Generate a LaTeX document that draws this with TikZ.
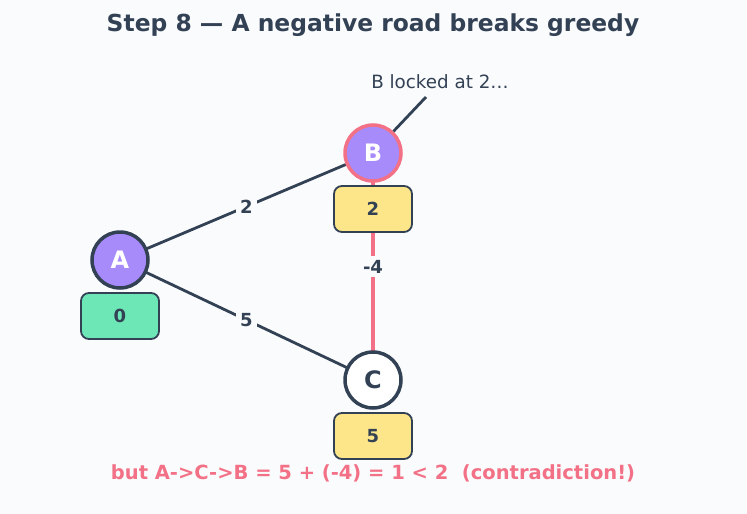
\documentclass[tikz,border=0pt]{standalone}
\usepackage{fontspec}
\setmainfont{DejaVu Sans}
\usetikzlibrary{positioning}
\definecolor{pageBg}{HTML}{FAFBFD}
\definecolor{roadDark}{HTML}{334155}
\definecolor{roadPink}{HTML}{F37186}
\definecolor{cityPurple}{HTML}{A78BFA}
\definecolor{distGreen}{HTML}{6EE7B7}
\definecolor{distYellow}{HTML}{FDE68A}

\begin{document}
\begin{tikzpicture}[x=1pt, y=-1pt,
      city/.style={circle, draw=roadDark, line width=3.5pt, fill=cityPurple, text=white,
        minimum size=56pt, inner sep=0pt, font=\fontsize{24}{26}\selectfont\bfseries},
      dist/.style={draw=roadDark, line width=1.8pt, rounded corners=8pt, fill=distYellow,
        text=roadDark, minimum width=78pt, minimum height=46pt, inner sep=0pt,
        font=\fontsize{18}{20}\selectfont\bfseries},
      road/.style={roadDark, line width=2.8pt},
      weight/.style={fill=pageBg, text=roadDark, inner sep=4pt,
        font=\fontsize{18}{20}\selectfont\bfseries}]
    \fill[pageBg] (0,0) rectangle (747,514);
    \useasboundingbox (0,0) rectangle (747,514);

    \node[text=roadDark, font=\fontsize{23.4}{26}\selectfont\bfseries] (title) at (373,25)
      {Step 8 — A negative road breaks greedy};

    \coordinate (pA) at (120,260);
    \coordinate (pB) at (373,153);
    \coordinate (pC) at (373,380);

    % roads first, cities on top
    \draw[road] (pA) -- node[weight] (wAB) {2} (pB);
    \draw[road] (pA) -- node[weight] (wAC) {5} (pC);
    \draw[roadPink, line width=4.5pt] (pB) -- node[weight] (wBC) {-4} (pC);

    \node[dist, fill=distGreen] (dA) at (120,316) {0};
    \node[dist] (dB) at (373,209) {2};
    \node[dist] (dC) at (373,436) {5};

    \node[city] (A) at (pA) {A};
    \node[city, draw=roadPink] (B) at (pB) {B};
    \node[city, fill=white, text=roadDark] (C) at (pC) {C};

    \node[text=roadDark, font=\fontsize{18.3}{20}\selectfont] (note) at (440,82) {B locked at 2…};
    \coordinate (noteTip) at (426,97);
    \draw[road] (noteTip) -- (B);

    \node[text=roadPink, font=\fontsize{19.5}{22}\selectfont\bfseries] (verdict) at (373,473)
      {but A->C->B = 5 + (-4) = 1 < 2 \ (contradiction!)};
  \end{tikzpicture}
\end{document}
